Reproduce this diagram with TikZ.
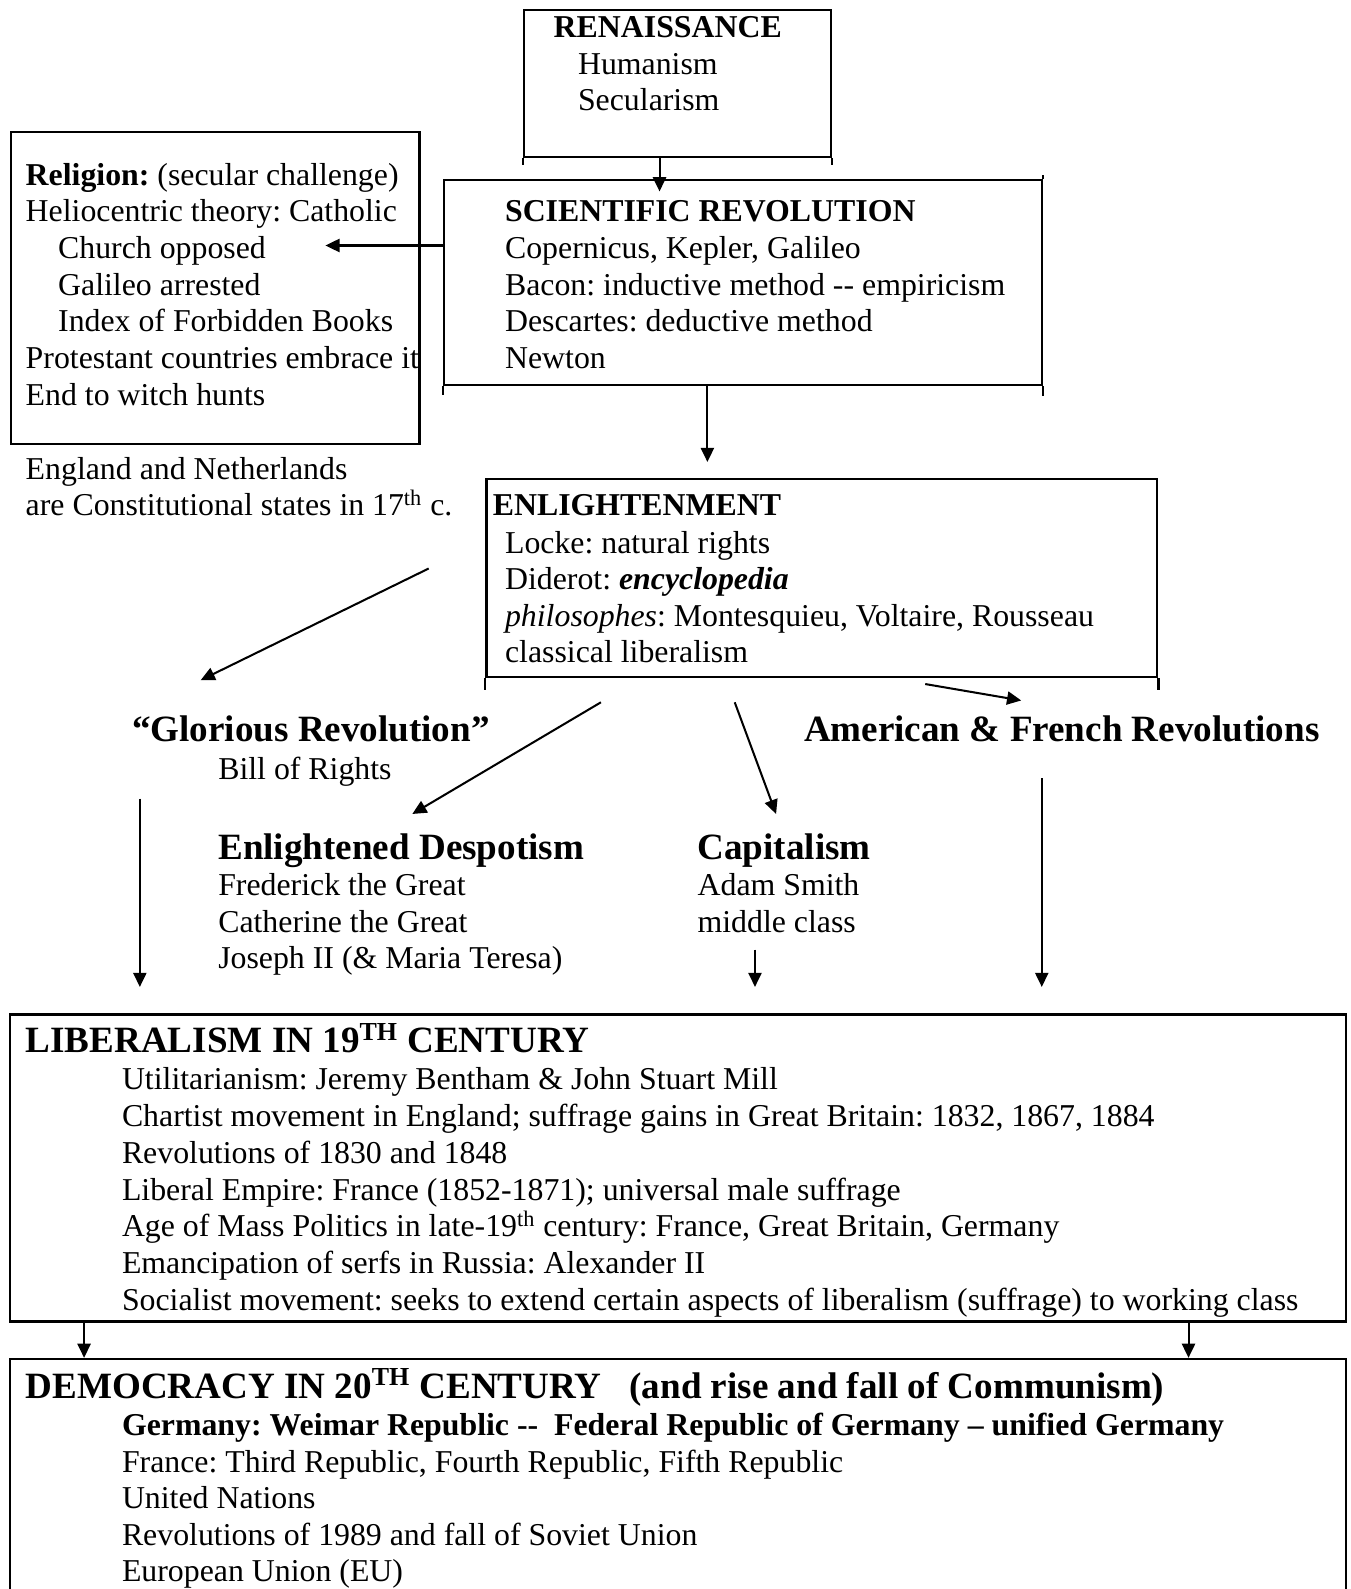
\documentclass[tikz,border=0pt]{standalone}
\usepackage{fontspec}
\setmainfont{Liberation Serif}
\usetikzlibrary{arrows.meta,fit,calc}
\frenchspacing

\begin{document}
\begin{tikzpicture}[
  x=0.5pt, y=-0.5pt,
  box/.style={draw, line width=1.1pt, inner sep=0pt},
  sideline/.style={line width=1.1pt},
  txt/.style={anchor=base west, inner sep=0pt, font=\fontsize{15.7}{18}\selectfont},
  boldtxt/.style={txt, font=\fontsize{15.7}{18}\selectfont\bfseries},
  headtxt/.style={txt, font=\fontsize{18.3}{21}\selectfont\bfseries},
  arr/.style={-{Triangle[length=7pt,width=6.5pt]}, line width=1pt}
]
\useasboundingbox (0,0) rectangle (1333,1568);

% boxes
\node[box, fit={(517,10) (820,155)}] (ren) {};
\node[box, fit={(438,178) (1028,380)}] (sci) {};
\node[box, fit={(11,130) (414,438)}] (rel) {};
\node[box, fit={(480,473) (1142,668)}] (enl) {};
\node[box, fit={(10,1001) (1328,1304)}] (lib) {};
\node[box, fit={(10,1341) (1328,1580)}] (dem) {};
% side lines running past the corners
\draw[sideline] (ren.south west) -- ++(0,7)  (ren.south east) -- ++(0,7);
\draw[sideline] (sci.south west) -- ++(0,9)  (sci.south east) -- ++(0,10) (sci.north east) -- ++(0,-4);
\draw[sideline] (enl.south west) -- ++(0,12) (enl.south east) -- ++(0,12);

% Renaissance
\node[boldtxt] (ren-t) at (546,37) {RENAISSANCE};
\node[txt] (ren-1) at (570,74) {Humanism};
\node[txt] (ren-2) at (570,109) {Secularism};

% Scientific Revolution
\node[boldtxt] (sci-t) at (498,219) {SCIENTIFIC REVOLUTION};
\foreach \t [count=\i] in {{Copernicus, Kepler, Galileo}, {Bacon: inductive method -{}- empiricism},
    {Descartes: deductive method}, Newton}
  \node[txt] (sci-\i) at (498,{219+\i*36.2}) {\t};

% Religion
\node[txt] (rel-1) at (25,183) {\textbf{Religion:} (secular challenge)};
\node[txt] (rel-2) at (25,219) {Heliocentric theory: Catholic};
\foreach \t [count=\i] in {Church opposed, Galileo arrested, Index of Forbidden Books}
  \node[txt] (rel-s\i) at (57,{219+\i*36.2}) {\t};
\node[txt] (rel-6) at (25,364) {Protestant countries embrace it};
\node[txt] (rel-7) at (25,400) {End to witch hunts};

\node[txt] (eng-1) at (25,473) {England and Netherlands};
\node[txt] (eng-2) at (25,509) {are Constitutional states in 17\textsuperscript{th} c.};

% Enlightenment
\node[boldtxt] (enl-t) at (486,509) {ENLIGHTENMENT};
\node[txt] (enl-1) at (498,546) {Locke: natural rights};
\node[txt] (enl-2) at (498,582) {Diderot: \textbf{\textit{encyclopedia}}};
\node[txt] (enl-3) at (498,618) {\textit{philosophes}: Montesquieu, Voltaire, Rousseau};
\node[txt] (enl-4) at (498,654) {classical liberalism};

% outcomes
\node[headtxt] (glor) at (130,732) {“Glorious Revolution”};
\node[txt] (glor-1) at (215,769) {Bill of Rights};
\node[headtxt] (amfr) at (793,732) {American \& French Revolutions};
\node[headtxt] (desp) at (215,848) {Enlightened Despotism};
\foreach \t [count=\i] in {Frederick the Great, Catherine the Great, {Joseph II (\& Maria Teresa)}}
  \node[txt] (desp-\i) at (215,{848+\i*36}) {\t};
\node[headtxt] (cap) at (688,848) {Capitalism};
\node[txt] (cap-1) at (688,884) {Adam Smith};
\node[txt] (cap-2) at (688,920) {middle class};

% Liberalism
\node[headtxt] (lib-t) at (25,1039) {LIBERALISM IN 19\textsuperscript{TH} CENTURY};
\foreach \t [count=\i] in {
    {Utilitarianism: Jeremy Bentham \& John Stuart Mill},
    {Chartist movement in England; suffrage gains in Great Britain: 1832, 1867, 1884},
    {Revolutions of 1830 and 1848},
    {Liberal Empire: France (1852-1871); universal male suffrage},
    {Age of Mass Politics in late-19\textsuperscript{th} century: France, Great Britain, Germany},
    {Emancipation of serfs in Russia: Alexander II},
    {Socialist movement: seeks to extend certain aspects of liberalism (suffrage) to working class}}
  \node[txt] (lib-\i) at (120,{1039+\i*36.3}) {\t};

% Democracy
\node[headtxt] (dem-t) at (25,1380) {DEMOCRACY IN 20\textsuperscript{TH} CENTURY~~~(and rise and fall of Communism)};
\node[boldtxt] (dem-1) at (120,1417) {Germany: Weimar Republic -{}-~ Federal Republic of Germany -- unified Germany};
\foreach \t [count=\i] in {{France: Third Republic, Fourth Republic, Fifth Republic}, United Nations,
    Revolutions of 1989 and fall of Soviet Union, European Union (EU)}
  \node[txt] (dem-a\i) at (120,{1417+\i*36}) {\t};

% connectors
\coordinate (c-ren) at ($(ren.south west)!0.442!(ren.south east)$);
\draw[arr, shorten >=-6pt] (c-ren) -- (c-ren |- sci.north);
\coordinate (c-sci) at ($(sci.north west)!0.32!(sci.south west)$);
\draw[arr] (c-sci) -- ([xshift=-47pt]c-sci -| rel.east);
\coordinate (c-sci2) at ($(sci.south west)!0.441!(sci.south east)$);
\draw[arr, shorten >=8pt] (c-sci2) -- (c-sci2 |- enl.north);

\coordinate (c-glor) at (423,561);
\draw[arr] (c-glor) -- ([shift={(68,-35)}]glor.north west);
\coordinate (c-desp) at (593,693);
\draw[arr] (c-desp) -- ([shift={(11,-19)}]desp.north);
\coordinate (c-cap) at (725,693);
\draw[arr] (c-cap) -- ([shift={(-8,-19)}]cap.north);
\coordinate (c-amfr) at (913,675);
\draw[arr] (c-amfr) -- ([shift={(-40,-15)}]amfr.north);

\coordinate (d1) at (138,788);
\coordinate (d2) at (745,937);
\coordinate (d3) at (1028,768);
\foreach \d in {d1,d2,d3}
  \draw[arr] (\d) -- ([yshift=13pt]\d |- lib.north);
\coordinate (d4) at ($(lib.south west)!0.0561!(lib.south east)$);
\coordinate (d5) at ($(lib.south west)!0.8816!(lib.south east)$);
\foreach \d in {d4,d5}
  \draw[arr] (\d) -- (\d |- dem.north);
\end{tikzpicture}
\end{document}
